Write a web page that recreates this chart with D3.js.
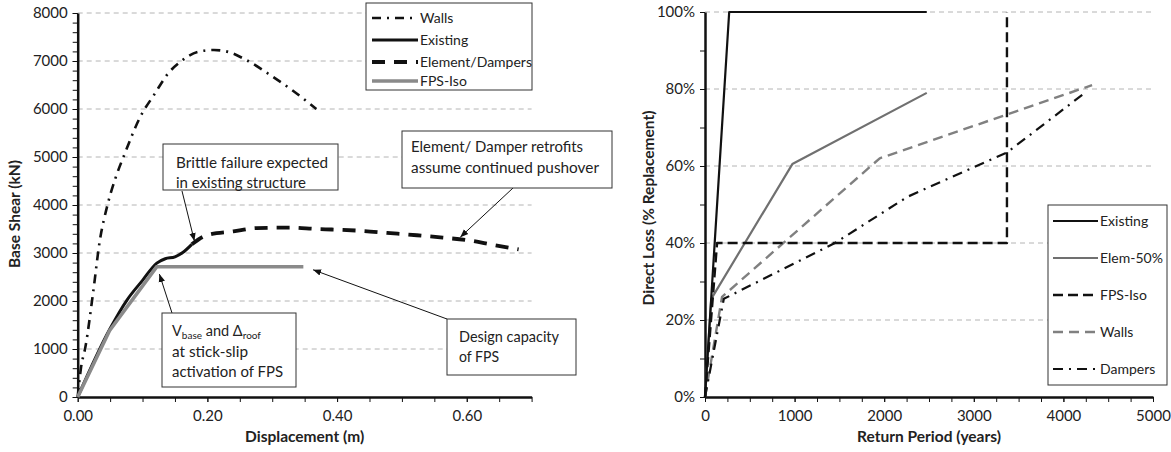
<!DOCTYPE html>
<html>
<head>
<meta charset="utf-8">
<script src="https://cdn.jsdelivr.net/npm/d3@7"></script>
<style>
  body { margin: 0; background: #fff; }
  text { font-family: Lato, "Liberation Sans", sans-serif; fill: #222; }
</style>
</head>
<body>
<div id="chart"></div>
<script>
// ---- pushover curves, left chart: [displacement (m), base shear (kN)]
const pushWalls = [[0,0],[0.005,600],[0.012,1050],[0.024,2200],[0.034,3250],[0.045,3950],[0.058,4550],
  [0.072,5050],[0.097,5850],[0.118,6300],[0.14,6750],[0.16,7000],[0.185,7190],[0.21,7230],[0.232,7190],
  [0.26,7020],[0.30,6680],[0.33,6400],[0.368,6000]];
const pushExisting = [[0,0],[0.049,1400],[0.076,2020],[0.10,2430],[0.122,2790],[0.135,2880],[0.15,2920],
  [0.162,3010],[0.176,3180]];
const pushElement = [[0.176,3180],[0.199,3370],[0.24,3450],[0.276,3520],[0.327,3530],[0.369,3500],
  [0.392,3490],[0.44,3460],[0.477,3420],[0.523,3370],[0.563,3320],[0.605,3260],[0.64,3170],[0.68,3075]];
const pushFPS = [[0,0],[0.049,1380],[0.122,2715],[0.348,2715]];
const pushLegend = ["Walls", "Existing", "Element/Dampers", "FPS-Iso"];

// ---- loss curves, right chart: [return period (years), direct loss (fraction)]
const lossExisting = [[0,0],[270,1.0],[2475,1.0]];
const lossElem = [[0,0],[70,0.255],[975,0.605],[2475,0.79]];
const lossFPS = [[0,0],[135,0.40],[3370,0.40],[3370,1.0]];
const lossWalls = [[0,0],[190,0.26],[1950,0.62],[4320,0.81]];
const lossDampers = [[0,0],[210,0.255],[1450,0.40],[2260,0.52],[3370,0.635],[4240,0.79]];
const lossLegend = ["Existing", "Elem-50%", "FPS-Iso", "Walls", "Dampers"];

const shearTicks = [0,1000,2000,3000,4000,5000,6000,7000,8000];
const dispTicks = [0,0.2,0.4,0.6];
const lossTicks = [0,0.2,0.4,0.6,0.8,1.0];
const periodTicks = [0,1000,2000,3000,4000,5000];

const W = 1171, H = 452;
const svg = d3.select("#chart").append("svg").attr("width", W).attr("height", H);

const defs = svg.append("defs");
defs.append("marker").attr("id", "arr")
  .attr("viewBox", "0 0 10 10").attr("refX", 10).attr("refY", 5)
  .attr("markerWidth", 8).attr("markerHeight", 8).attr("markerUnits", "userSpaceOnUse")
  .attr("orient", "auto")
  .append("path").attr("d", "M0,1 L10,5 L0,9 z").attr("fill", "#111");

const gridCol = "#b4b4b4";

function drawAxes(x, y, opt) {
  const [x0, x1] = x.range(), [y0, y1] = y.range();
  // gridlines
  svg.append("g").selectAll("line").data(opt.grid).join("line")
    .attr("x1", x0).attr("x2", x1)
    .attr("y1", d => y(d)).attr("y2", d => y(d))
    .attr("stroke", gridCol).attr("stroke-width", 1).attr("stroke-dasharray", "5,4");

  // minor ticks
  svg.append("g").attr("transform", `translate(${x0},0)`)
    .call(d3.axisLeft(y).tickValues(opt.yMinor).tickSize(5).tickFormat(""))
    .call(g => g.select(".domain").remove());
  svg.append("g").attr("transform", `translate(0,${y0})`)
    .call(d3.axisBottom(x).tickValues(opt.xMinor).tickSize(5).tickFormat(""))
    .call(g => g.select(".domain").remove());

  // major ticks + labels
  const ya = svg.append("g").attr("transform", `translate(${x0},0)`)
    .call(d3.axisLeft(y).tickValues(opt.yTicks).tickSize(5).tickSizeOuter(0).tickPadding(5).tickFormat(opt.yFmt));
  const xa = svg.append("g").attr("transform", `translate(0,${y0})`)
    .call(d3.axisBottom(x).tickValues(opt.xTicks).tickSize(5).tickSizeOuter(0).tickPadding(8).tickFormat(opt.xFmt));
  [ya, xa].forEach(a => {
    a.selectAll("text").attr("font-size", 15).attr("fill", "#222");
    a.select(".domain").attr("stroke", "#111").attr("stroke-width", 2.5);
  });
  svg.selectAll(".tick line").attr("stroke", "#111");

  // axis titles
  svg.append("text").attr("x", (x0 + x1) / 2).attr("y", 442)
    .attr("text-anchor", "middle").attr("font-size", 15.5).attr("font-weight", "bold").text(opt.xTitle);
  svg.append("text").attr("transform", `translate(${opt.yTitleX},${opt.yTitleY}) rotate(-90)`)
    .attr("text-anchor", "middle").attr("font-size", 15.5).attr("font-weight", "bold").text(opt.yTitle);
}

function drawLine(x, y, data, st, curve) {
  svg.append("path").datum(data)
    .attr("d", d3.line().x(d => x(d[0])).y(d => y(d[1])).curve(curve || d3.curveLinear))
    .attr("fill", "none").attr("stroke", st.color).attr("stroke-width", st.width)
    .attr("stroke-dasharray", st.dash || null).attr("stroke-linejoin", "round");
}

function drawLegend(box, names, styles, rows, sampleX, textX) {
  svg.append("rect").attr("x", box[0]).attr("y", box[1]).attr("width", box[2]).attr("height", box[3])
    .attr("fill", "#fff").attr("stroke", "#333").attr("stroke-width", 1);
  names.forEach((n, i) => {
    const st = styles[i];
    svg.append("line").attr("x1", sampleX[0]).attr("x2", sampleX[1]).attr("y1", rows[i]).attr("y2", rows[i])
      .attr("stroke", st.color).attr("stroke-width", st.width).attr("stroke-dasharray", st.dash || null);
    svg.append("text").attr("x", textX).attr("y", rows[i] + 5).attr("font-size", 14).text(n);
  });
}

// ================= LEFT: pushover =================
const xL = d3.scaleLinear().domain([0, 0.7]).range([77.7, 531.6]);
const yL = d3.scaleLinear().domain([0, 8000]).range([397, 13]);

drawAxes(xL, yL, {
  grid: shearTicks.slice(1),
  yMinor: d3.range(0, 8001, 200), xMinor: d3.range(0, 0.701, 0.05),
  yTicks: shearTicks, xTicks: dispTicks,
  yFmt: d3.format("d"), xFmt: d3.format(".2f"),
  xTitle: "Displacement (m)", yTitle: "Base Shear (kN)", yTitleX: 20, yTitleY: 214
});

const stL = [
  { color: "#111", width: 2.6, dash: "9,6,2,6" },
  { color: "#111", width: 3 },
  { color: "#111", width: 3.8, dash: "13,9" },
  { color: "#8a8a8a", width: 3.6 }
];
drawLine(xL, yL, pushWalls, stL[0], d3.curveMonotoneX);
drawLine(xL, yL, pushElement, stL[2], d3.curveMonotoneX);
drawLine(xL, yL, pushExisting, stL[1], d3.curveMonotoneX);
drawLine(xL, yL, pushFPS, stL[3]);

drawLegend([366, 3, 166, 87], pushLegend, stL, [18, 40, 62, 81], [372, 418], 420);

// annotation boxes with arrows pointing to data
const notes = [
  { box: [163, 144, 175, 46], size: 15.5, tx: 176, ty: [168, 188],
    lines: ["Brittle failure expected", "in existing structure"], lens: [152, 130],
    from: [182, 191], to: [0.18, 3250] },
  { box: [402, 131, 210, 57], size: 15.5, tx: 411, ty: [152, 173],
    lines: ["Element/ Damper retrofits", "assume continued pushover"], lens: [172, 188],
    from: [513, 188], to: [0.59, 3330] },
  { box: [447, 319, 129, 56], size: 15, tx: 459, ty: [342, 362],
    lines: ["Design capacity", "of FPS"], lens: [100, 40],
    from: [447, 319], to: [0.363, 2650] },
  { box: [162, 313, 134, 74], size: 15, tx: 172, ty: [337, 357, 377],
    lines: ["", "at stick-slip", "activation of FPS"], lens: [0, 76, 111],
    from: [172, 313], to: [0.126, 2560] }
];
notes.forEach(n => {
  svg.append("line").attr("x1", n.from[0]).attr("y1", n.from[1])
    .attr("x2", xL(n.to[0])).attr("y2", yL(n.to[1]))
    .attr("stroke", "#111").attr("stroke-width", 1).attr("marker-end", "url(#arr)");
  svg.append("rect").attr("x", n.box[0]).attr("y", n.box[1]).attr("width", n.box[2]).attr("height", n.box[3])
    .attr("fill", "#fff").attr("stroke", "#333").attr("stroke-width", 1);
  n.lines.forEach((l, i) => {
    if (l) svg.append("text").attr("x", n.tx).attr("y", n.ty[i]).attr("font-size", n.size)
      .attr("textLength", n.lens[i]).attr("lengthAdjust", "spacingAndGlyphs").text(l);
  });
});
// V_base and Δ_roof with subscripts
const vt = svg.append("text").attr("x", 172).attr("y", 336).attr("font-size", 14.5);
vt.append("tspan").text("V");
vt.append("tspan").attr("font-size", 10).attr("dy", 3).text("base");
vt.append("tspan").attr("dy", -3).text(" and Δ");
vt.append("tspan").attr("font-size", 10).attr("dy", 3).text("roof");

// ================= RIGHT: loss =================
const xR = d3.scaleLinear().domain([0, 5000]).range([705, 1153]);
const yR = d3.scaleLinear().domain([0, 1]).range([397, 12]);

drawAxes(xR, yR, {
  grid: lossTicks.slice(1),
  yMinor: d3.range(0, 1.001, 0.1), xMinor: d3.range(0, 5001, 250),
  yTicks: lossTicks, xTicks: periodTicks,
  yFmt: d3.format(".0%"), xFmt: d3.format("d"),
  xTitle: "Return Period (years)", yTitle: "Direct Loss (% Replacement)", yTitleX: 654, yTitleY: 208
});

const stR = [
  { color: "#111", width: 2.2 },
  { color: "#707070", width: 2.2 },
  { color: "#111", width: 2.4, dash: "10,5" },
  { color: "#808080", width: 2.4, dash: "10,6" },
  { color: "#111", width: 2.2, dash: "10,6,2,6" }
];
drawLine(xR, yR, lossWalls, stR[3]);
drawLine(xR, yR, lossDampers, stR[4]);
drawLine(xR, yR, lossElem, stR[1]);
drawLine(xR, yR, lossFPS, stR[2]);
drawLine(xR, yR, lossExisting, stR[0]);

drawLegend([1048, 205, 119, 180], lossLegend, stR, [221, 258, 295, 332, 369], [1053, 1098], 1100);
</script>
</body>
</html>
